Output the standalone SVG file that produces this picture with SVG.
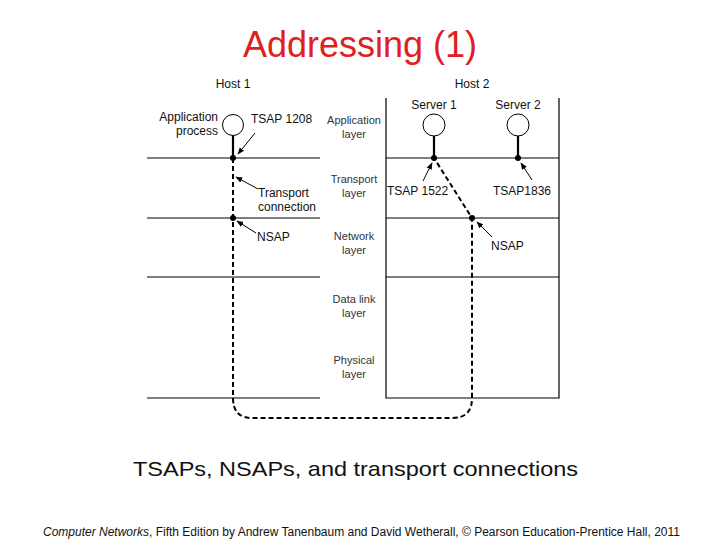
<svg xmlns="http://www.w3.org/2000/svg" width="720" height="540" viewBox="0 0 720 540">
<style>
.t{font-family:"Liberation Sans",Arial,sans-serif;fill:#111}
.lbl{font-size:12px}
.lay{font-size:11px;fill:#333;text-anchor:middle}
.ln{stroke:#000;stroke-width:1.2;fill:none}
.solid{stroke:#000;stroke-width:2.2;fill:none}
.dash{stroke:#000;stroke-width:2;stroke-dasharray:5 3;fill:none}
.arr{stroke:#000;stroke-width:1;fill:none;marker-end:url(#ah)}
.circ{fill:#fff;stroke:#000;stroke-width:1}
.dot{fill:#000}
</style>
<defs>
<marker id="ah" viewBox="0 0 10 10" refX="9" refY="5" markerWidth="7" markerHeight="7" markerUnits="userSpaceOnUse" orient="auto">
<path d="M0,1 L10,5 L0,9 z" fill="#000"/>
</marker>
</defs>
<rect width="720" height="540" fill="#fff"/>
<text class="t" x="360" y="57" font-size="36" text-anchor="middle" style="fill:#e0201e">Addressing (1)</text>

<g id="host1">
<text class="t lbl" x="233" y="88" text-anchor="middle">Host 1</text>
<line class="ln" x1="147" y1="158" x2="320" y2="158"/>
<line class="ln" x1="147" y1="218" x2="320" y2="218"/>
<line class="ln" x1="147" y1="277" x2="320" y2="277"/>
<line class="ln" x1="147" y1="398" x2="320" y2="398"/>
</g>

<g id="host2">
<text class="t lbl" x="472" y="88" text-anchor="middle">Host 2</text>
<path class="ln" d="M386,98 V398 H559 V98"/>
<line class="ln" x1="386" y1="158" x2="559" y2="158"/>
<line class="ln" x1="386" y1="218" x2="559" y2="218"/>
<line class="ln" x1="386" y1="277" x2="559" y2="277"/>
</g>

<g id="layers">
<text class="t lay"><tspan x="354" y="124">Application</tspan><tspan x="354" y="138">layer</tspan></text>
<text class="t lay"><tspan x="354" y="183">Transport</tspan><tspan x="354" y="197">layer</tspan></text>
<text class="t lay"><tspan x="354" y="240">Network</tspan><tspan x="354" y="254">layer</tspan></text>
<text class="t lay"><tspan x="354" y="303">Data link</tspan><tspan x="354" y="317">layer</tspan></text>
<text class="t lay"><tspan x="354" y="364">Physical</tspan><tspan x="354" y="378">layer</tspan></text>
</g>

<g id="app-process">
<circle class="circ" cx="233" cy="125" r="10.5"/>
<text class="t lbl" text-anchor="end"><tspan x="218" y="121">Application</tspan><tspan x="218" y="135">process</tspan></text>
</g>

<g id="server1">
<text class="t lbl" x="434" y="109" text-anchor="middle">Server 1</text>
<circle class="circ" cx="434" cy="125" r="11"/>
</g>

<g id="server2">
<text class="t lbl" x="518" y="109" text-anchor="middle">Server 2</text>
<circle class="circ" cx="518" cy="125" r="11"/>
</g>

<g id="connectors">
<line class="solid" x1="233" y1="135.5" x2="233" y2="158"/>
<line class="solid" x1="434" y1="136" x2="434" y2="158"/>
<line class="solid" x1="518" y1="136" x2="518" y2="158"/>
<path class="dash" d="M233,158 V398 C233,412 240,418 252,418 H452 C465,418 472,412 472,398 V218 L434,158"/>
<circle class="dot" cx="233" cy="158" r="3"/>
<circle class="dot" cx="233" cy="218" r="3"/>
<circle class="dot" cx="434" cy="158" r="3"/>
<circle class="dot" cx="518" cy="158" r="3"/>
<circle class="dot" cx="472" cy="218" r="3"/>
<line class="arr" x1="255" y1="133" x2="238" y2="154"/>
<line class="arr" x1="258" y1="189" x2="236" y2="177"/>
<line class="arr" x1="256" y1="233" x2="237" y2="221"/>
<line class="arr" x1="423" y1="181" x2="432" y2="163"/>
<line class="arr" x1="532" y1="180" x2="521" y2="163"/>
<line class="arr" x1="492" y1="237" x2="477" y2="222"/>
</g>

<g id="sap-labels">
<text class="t lbl" x="251" y="123">TSAP 1208</text>
<text class="t lbl"><tspan x="258" y="197">Transport</tspan><tspan x="258" y="211">connection</tspan></text>
<text class="t lbl" x="257" y="241">NSAP</text>
<text class="t lbl" x="387" y="195">TSAP 1522</text>
<text class="t lbl" x="493" y="195">TSAP1836</text>
<text class="t lbl" x="491" y="250">NSAP</text>
</g>

<text class="t" x="133" y="476" font-size="21" textLength="445" lengthAdjust="spacingAndGlyphs">TSAPs, NSAPs, and transport connections</text>
<text class="t" x="43" y="536" font-size="12.5" textLength="637" lengthAdjust="spacingAndGlyphs"><tspan font-style="italic">Computer Networks</tspan>, Fifth Edition by Andrew Tanenbaum and David Wetherall, © Pearson Education-Prentice Hall, 2011</text>
</svg>
